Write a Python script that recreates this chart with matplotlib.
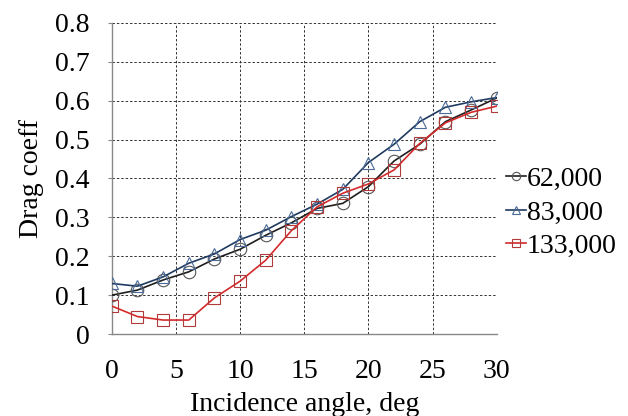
import matplotlib
matplotlib.use('Agg')
import matplotlib.pyplot as plt
import numpy as np

# angulos de incidencia (graus)
angulos = [0, 2, 4, 6, 8, 10, 12, 14, 16, 18, 20, 22, 24, 26, 28, 30]

# coeficiente de arrasto por numero de Reynolds
cd_62000 = [0.100, 0.113, 0.139, 0.160, 0.193, 0.218, 0.254, 0.286,
            0.323, 0.336, 0.379, 0.445, 0.488, 0.546, 0.576, 0.607]
cd_83000 = [0.130, 0.123, 0.147, 0.182, 0.206, 0.243, 0.267, 0.302,
            0.334, 0.372, 0.441, 0.488, 0.546, 0.583, 0.597, 0.608]
cd_133000 = [0.072, 0.045, 0.036, 0.036, 0.093, 0.136, 0.190, 0.266,
             0.327, 0.362, 0.386, 0.422, 0.490, 0.543, 0.570, 0.586]

rotulos = ['62,000', '83,000', '133,000']
xticks = [0, 5, 10, 15, 20, 25, 30]
yticks = [0, 0.1, 0.2, 0.3, 0.4, 0.5, 0.6, 0.7, 0.8]
ytick_labels = ['0', '0.1', '0.2', '0.3', '0.4', '0.5', '0.6', '0.7', '0.8']

plt.rcParams['font.family'] = ['Liberation Serif', 'DejaVu Serif']

fig = plt.figure(figsize=(6.28, 4.16), dpi=100)
ax = fig.add_axes([0.178, 0.197, 0.613, 0.748])

ax.plot(angulos, cd_62000, color='#1e1e1e', lw=1.2, marker='o', ms=9,
        mfc='none', mec='#555555', mew=0.8, label=rotulos[0], zorder=3)
ax.plot(angulos, cd_83000, color='#1f3a60', lw=1.2, marker='^', ms=9,
        mfc='none', mec='#4a6a98', mew=0.8, label=rotulos[1], zorder=3)
ax.plot(angulos, cd_133000, color='#d42a2a', lw=1.2, marker='s', ms=9,
        mfc='none', mec='#b03a3a', mew=0.8, label=rotulos[2], zorder=3)

ax.set_xlim(0, 30)
ax.set_ylim(0, 0.8)
ax.set_xticks(xticks)
ax.set_yticks(yticks)
ax.set_yticklabels(ytick_labels)

ax.grid(True, color='#333333', linestyle=(0, (2.5, 2)), linewidth=0.7)
ax.set_axisbelow(True)
for lado in ['top', 'right']:
    ax.spines[lado].set_visible(False)
for lado in ['left', 'bottom']:
    ax.spines[lado].set_color('#888888')
    ax.spines[lado].set_linewidth(1.0)

ax.tick_params(axis='x', length=0, pad=18, labelsize=20)
ax.tick_params(axis='y', length=3, direction='out', color='#888888', pad=13, labelsize=20)

ax.set_xlabel('Incidence angle, deg', fontsize=20, labelpad=6)
ax.set_ylabel('Drag coeff', fontsize=20, labelpad=8)

leg = ax.legend(loc='center left', bbox_to_anchor=(1.0, 0.39), frameon=False,
                fontsize=20, handlelength=0.7, handletextpad=0.03,
                labelspacing=0.3, borderpad=0.0, borderaxespad=0.35)
for linha in leg.get_lines():
    linha.set_markersize(6)

fig.savefig('out.png', dpi=100)
